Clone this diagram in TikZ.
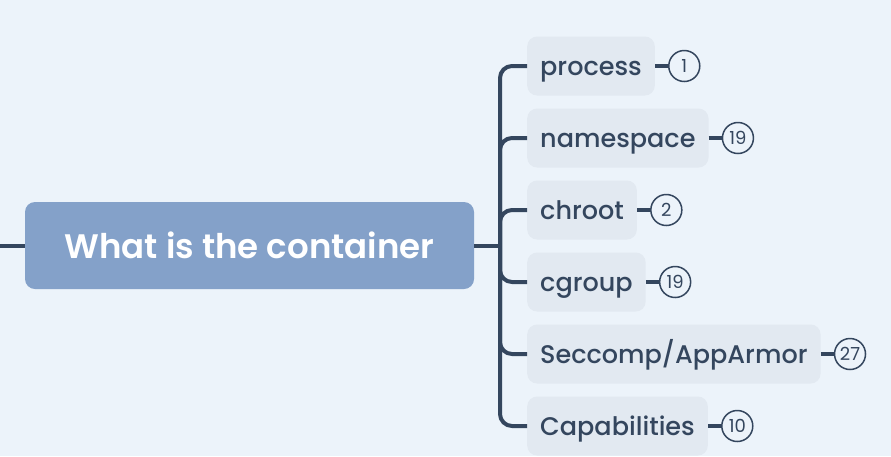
\documentclass[tikz,border=0pt]{standalone}
\usepackage{fontspec}
\setmainfont{Poppins}[UprightFont={* Medium}, BoldFont={* SemiBold}]
\newfontfamily\countfont{Poppins}
\usepackage{tikz}
\usetikzlibrary{positioning}
\definecolor{bgblue}{HTML}{ECF3FA}
\definecolor{topicblue}{HTML}{84A1C9}
\definecolor{branchgrey}{HTML}{E2E9F1}
\definecolor{inkdark}{HTML}{34465E}
\tikzstyle{topic}=[fill=topicblue, rounded corners=10pt, minimum width=449pt, minimum height=87pt,
                   text height=32pt, text depth=7pt,
                   text=white, font=\fontsize{34}{38}\selectfont\bfseries]
\tikzstyle{branch}=[fill=branchgrey, rounded corners=10pt, minimum height=59pt, inner xsep=13pt,
                    text height=24pt, text depth=6pt,
                    anchor=west, text=inkdark, font=\fontsize{25.5}{30}\selectfont]
\tikzstyle{count}=[draw=inkdark, line width=1.5pt, circle, minimum size=31pt, inner sep=0,
                   text height=13pt, text depth=0pt,
                   text=inkdark, font=\fontsize{18}{20}\countfont]
\tikzstyle{link}=[draw=inkdark, line width=4pt]
\tikzstyle{mindmap}=[x=1pt, y=-1pt]

\begin{document}
\begin{tikzpicture}[mindmap]
        \fill[bgblue] (0,0) rectangle (891,456);
        \useasboundingbox (0,0) rectangle (891,456);
        \node[topic] (T) at (249.5,245.5) {What is the container};
        \coordinate (L) at (0,245.5);
        \coordinate (J) at (500,245.5);
        \node[branch] (B1) at (527,66) {process};
        \node[branch] (B2) at (527,138) {namespace};
        \node[branch] (B3) at (527,210) {chroot};
        \node[branch] (B4) at (527,282) {cgroup};
        \node[branch] (B5) at (527,354) {Seccomp/AppArmor};
        \node[branch] (B6) at (527,426) {Capabilities};
        \node[count, right=13pt of B1] (N1) {1};
        \node[count, right=13pt of B2] (N2) {19};
        \node[count, right=13pt of B3] (N3) {2};
        \node[count, right=13pt of B4] (N4) {19};
        \node[count, right=13pt of B5] (N5) {27};
        \node[count, right=13pt of B6] (N6) {10};
        \draw[link] (L) -- (T.west);
        \draw[link] (T.east) -- (J);
        \draw[link, rounded corners=12pt] (J) |- (B1.west);
        \draw[link, rounded corners=12pt] (J) |- (B2.west);
        \draw[link, rounded corners=12pt] (J) |- (B3.west);
        \draw[link, rounded corners=12pt] (J) |- (B4.west);
        \draw[link, rounded corners=12pt] (J) |- (B5.west);
        \draw[link, rounded corners=12pt] (J) |- (B6.west);
        \draw[link] (B1.east) -- (N1.west);
        \draw[link] (B2.east) -- (N2.west);
        \draw[link] (B3.east) -- (N3.west);
        \draw[link] (B4.east) -- (N4.west);
        \draw[link] (B5.east) -- (N5.west);
        \draw[link] (B6.east) -- (N6.west);
    \end{tikzpicture}
\end{document}
